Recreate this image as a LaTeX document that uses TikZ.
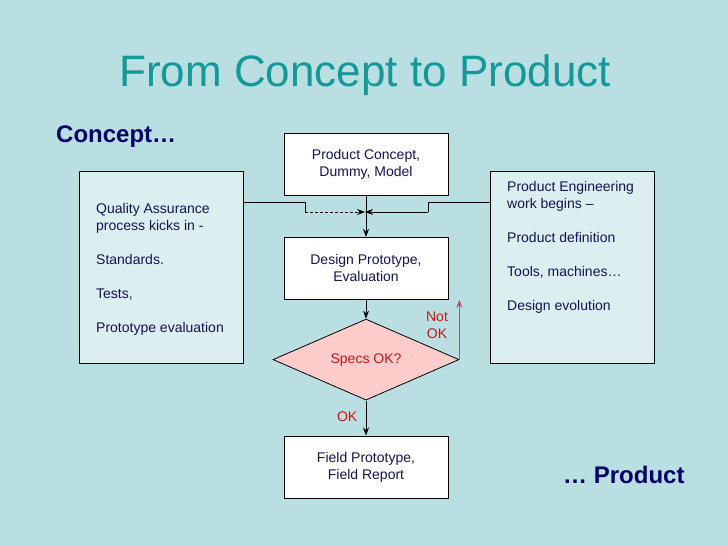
\documentclass[tikz,border=0pt]{standalone}
\usepackage{fontspec}
\setmainfont{Liberation Sans}
\usetikzlibrary{shapes,arrows,arrows.meta,positioning}
\definecolor{slidebg}{RGB}{185,223,227}
\definecolor{sidefill}{RGB}{221,238,241}
\definecolor{titleteal}{RGB}{20,152,152}
\definecolor{navy}{RGB}{0,0,102}
\definecolor{boxtext}{RGB}{20,20,80}
\definecolor{specred}{RGB}{196,24,24}
\definecolor{specfill}{RGB}{255,204,204}
\definecolor{loopred}{RGB}{190,80,90}

\begin{document}
\begin{tikzpicture}[x=1pt, y=-1pt,
    block/.style={rectangle, draw, line width=0.8pt, fill=white, minimum width=164pt, minimum height=62pt, align=center, text=boxtext, font=\fontsize{14}{17}\selectfont},
    sidebox/.style={rectangle, draw, line width=0.8pt, fill=sidefill, minimum width=164pt, minimum height=192pt, align=left, text=boxtext, font=\fontsize{14}{17}\selectfont},
    decision/.style={diamond, draw, line width=0.8pt, fill=specfill, aspect=2.3, inner sep=0pt, minimum width=186pt, minimum height=81pt, text=specred, font=\fontsize{14}{17}\selectfont},
    heading/.style={inner sep=0pt, text=navy, font=\fontsize{24}{28}\selectfont\bfseries},
    arrow/.style={-{Stealth[length=8pt,width=6pt]}, line width=0.8pt},
    line/.style={line width=0.8pt}
]
\fill[slidebg] (0,0) rectangle (728,546);
\useasboundingbox (0,0) rectangle (728,546);

\node[inner sep=0pt, anchor=base, text=titleteal, font=\fontsize{44}{50}\selectfont] (title) at (365,86) {From Concept to Product};
\node[heading, anchor=base west] (concept) at (56,142) {Concept…};
\node[heading, anchor=base west] (product) at (563,483) {… Product};

% center column
\node[block] (pc) at (366,164.5) {Product Concept,\\Dummy, Model};
\node[block, below=41pt of pc] (dp) {Design Prototype,\\Evaluation};
\node[decision, below=19pt of dp] (specs) {Specs OK?};
\node[block, below=35pt of specs] (fp) {Field Prototype,\\Field Report};

% side boxes
\node[sidebox] (qa) at (161.5,267) {};
\node[inner sep=0pt, anchor=north west, align=left, text=boxtext, font=\fontsize{14}{17}\selectfont] (qatext) at (96,203) {Quality Assurance\\process kicks in -\\[17pt]Standards.\\[17pt]Tests,\\[17pt]Prototype evaluation};
\node[sidebox] (pe) at (572.5,267) {};
\node[inner sep=0pt, anchor=north west, align=left, text=boxtext, font=\fontsize{14}{17}\selectfont] (petext) at (507,181) {Product Engineering\\work begins –\\[17pt]Product definition\\[17pt]Tools, machines…\\[17pt]Design evolution};

\coordinate (lin) at (305,202);
\coordinate (rin) at (428,202);
\coordinate (join) at (366,212);

\draw[arrow] (pc) -- (dp);
\draw[line] (qa.east |- lin) -- (lin) -- (lin |- join);
\draw[arrow, dash pattern=on 3pt off 2pt, shorten >=1pt] (lin |- join) -- (join);
\draw[line] (pe.west |- rin) -- (rin) -- (rin |- join);
\draw[arrow, shorten >=-1pt] (rin |- join) -- (join);
\draw[arrow] (dp) -- (specs);
\draw[arrow] (specs) -- node[pos=0.45, left=5pt, text=specred, font=\fontsize{14}{17}\selectfont] (oklabel) {OK} (fp);
\draw[arrow, loopred, line width=1.2pt] (specs.east) -- (specs.east |- dp.south);
\node[align=center, text=specred, font=\fontsize{14}{17}\selectfont] (notok) at (437,325) {Not\\OK};
\end{tikzpicture}
\end{document}
